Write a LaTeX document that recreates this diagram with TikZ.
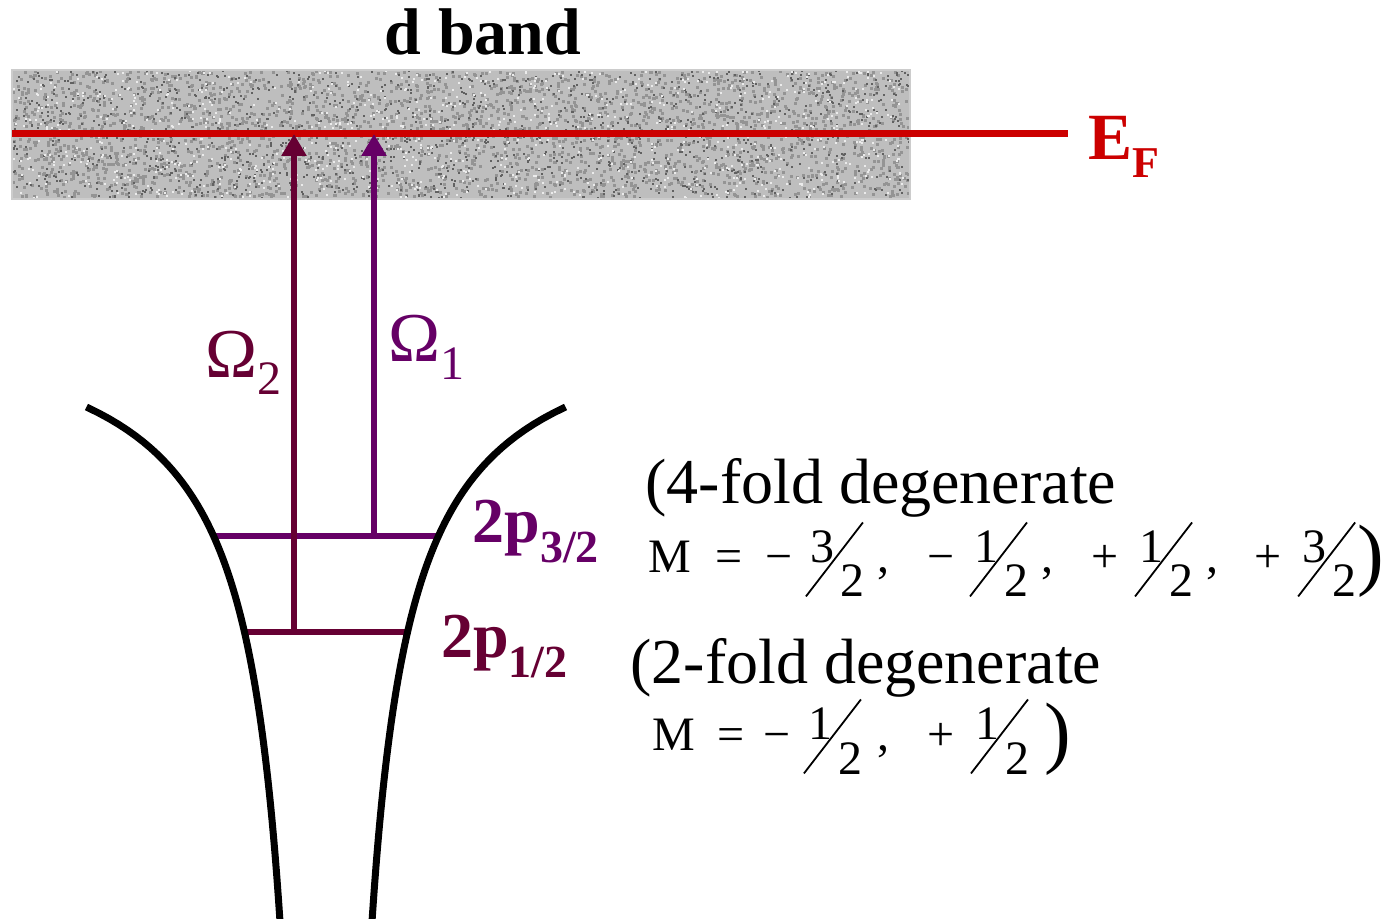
\documentclass[tikz,border=0pt]{standalone}
\usepackage{fontspec}
\setmainfont{Liberation Serif}
\usepackage{graphicx}
\usetikzlibrary{arrows.meta}
\definecolor{efred}{RGB}{204,0,0}
\definecolor{lvpurple}{RGB}{102,0,102}
\definecolor{lvmaroon}{RGB}{102,0,51}
\definecolor{bandgray}{RGB}{190,190,190}

\newcommand{\fsz}[1]{\fontsize{#1}{#1}\selectfont}
% slanted fraction with a long stroke
\newcommand{\slfrac}[2]{\makebox[30pt][l]{%
    \rlap{\raisebox{-12pt}{\rotatebox{52.4}{\rule{46.7pt}{0.9pt}}}}%
    \rlap{\hspace{2.5pt}\raisebox{5.5pt}{#1}}%
    \hspace{17.5pt}\raisebox{-12pt}{#2}}}
\newcommand{\bigclose}{\raisebox{-4pt}{\fsz{40pt})}}

\begin{document}
\begin{tikzpicture}[x=0.5pt, y=-0.5pt,
    lvl/.style={line width=3pt},
    arr/.style={line width=3pt, -{Triangle[width=12pt,length=11pt]}},
    well/.style={line width=3.5pt, black},
    lbl/.style={inner sep=0pt, anchor=base west}
]
    \useasboundingbox (0,0) rectangle (1398,919);

    % d band
    \fill[bandgray] (12,70) rectangle (910,199);
    \pgfmathsetseed{42}
    \foreach \i in {1,...,2600}{
        \pgfmathsetmacro{\rx}{12+895*rnd}
        \pgfmathsetmacro{\ry}{70+126*rnd}
        \fill[black!42] (\rx,\ry) rectangle ++(3,3);
    }
    \foreach \i in {1,...,1400}{
        \pgfmathsetmacro{\rx}{12+896*rnd}
        \pgfmathsetmacro{\ry}{70+127*rnd}
        \fill[black!62] (\rx,\ry) rectangle ++(2,2);
    }
    \foreach \i in {1,...,900}{
        \pgfmathsetmacro{\rx}{12+896*rnd}
        \pgfmathsetmacro{\ry}{70+127*rnd}
        \fill[black!8] (\rx,\ry) rectangle ++(2,2);
    }
    \draw[black!20, line width=1pt] (12,70) rectangle (910,199);
    \node[font=\bfseries\fsz{33pt}, inner sep=0pt, anchor=base] (dband) at (483,55) {d band};

    % Fermi level
    \coordinate (ef) at (12,134);
    \coordinate (efend) at (1068,134);
    \draw[efred, line width=3.5pt] (ef) -- (efend);
    \node[lbl, font=\bfseries\fsz{33pt}, text=efred] (eflbl) at (1088,160) {E\raisebox{-9pt}{\fsz{22pt}F}};

    % core levels
    \coordinate (l32a) at (213,536);
    \coordinate (l32b) at (439,536);
    \coordinate (l12a) at (244,632);
    \coordinate (l12b) at (408,632);
    \draw[lvl, lvpurple] (l32a) -- (l32b);
    \draw[lvl, lvmaroon] (l12a) -- (l12b);

    \coordinate (o2) at (294,632);
    \coordinate (o1) at (374,536);
    \draw[arr, lvmaroon] (o2) -- (o2 |- ef);
    \draw[arr, lvpurple] (o1) -- (o1 |- ef);

    % potential well
    \draw[well] plot[domain=407:921, samples=90, variable=\y] ({321-255.7/(\y-298)*100}, \y);
    \draw[well] plot[domain=407:921, samples=90, variable=\y] ({331+255.7/(\y-298)*100}, \y);

    % Labels
    \node[lbl, font=\fsz{35pt}, text=lvmaroon] (om2) at (205,378) {Ω\raisebox{-8.5pt}{\fsz{24pt}2}};
    \node[lbl, font=\fsz{35pt}, text=lvpurple] (om1) at (388,362) {Ω\raisebox{-9pt}{\fsz{24pt}1}};
    \node[lbl, font=\bfseries\fsz{32pt}, text=lvpurple] (p32) at (472,543) {2p\raisebox{-9.5pt}{\fsz{23pt}3/2}};
    \node[lbl, font=\bfseries\fsz{32pt}, text=lvmaroon] (p12) at (441,657) {2p\raisebox{-10pt}{\fsz{23pt}1/2}};

    \node[lbl, font=\fsz{32pt}] (deg4) at (645,503) {(4-fold degenerate};
    \node[lbl, font=\fsz{24pt}] (m4) at (648,573) {M\hspace{12pt}=\hspace{11.5pt}−\hspace{6.5pt}\slfrac{3}{2}\hspace{6pt},\hspace{19pt}−\hspace{7.5pt}\slfrac{1}{2}\hspace{6pt},\hspace{19pt}+\hspace{8pt}\slfrac{1}{2}\hspace{6pt},\hspace{18pt}+\hspace{8pt}\slfrac{3}{2}\bigclose};
    \node[lbl, font=\fsz{32pt}] (deg2) at (630,683) {(2-fold degenerate};
    \node[lbl, font=\fsz{24pt}] (m2) at (652,750) {M\hspace{11pt}=\hspace{9.5pt}−\hspace{6.5pt}\slfrac{1}{2}\hspace{7pt},\hspace{19pt}+\hspace{8pt}\slfrac{1}{2}\hspace{7pt}\bigclose};
\end{tikzpicture}
\end{document}
